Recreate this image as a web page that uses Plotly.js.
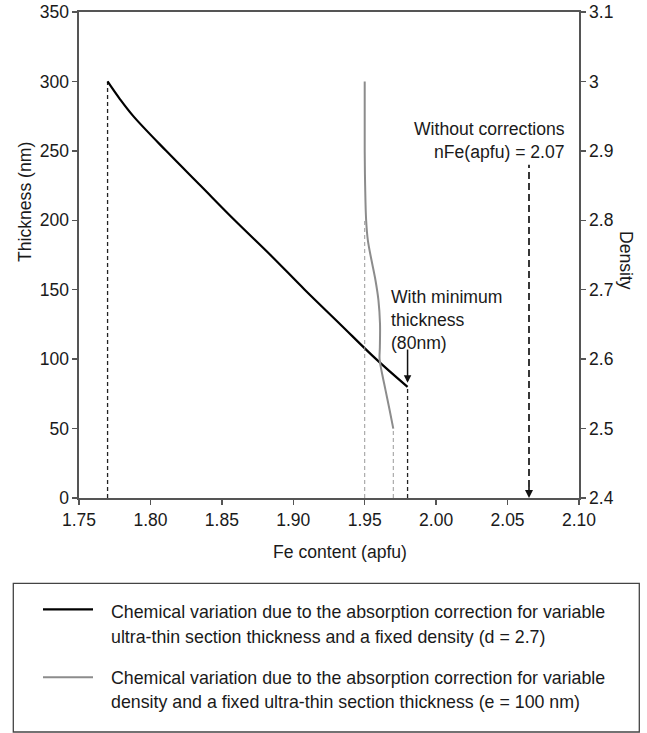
<!DOCTYPE html>
<html>
<head>
<meta charset="utf-8">
<script src="https://cdn.plot.ly/plotly-3.0.1.min.js"></script>
<style>html,body{margin:0;padding:0;background:#fff;}#chart{width:647px;height:733px;}</style>
</head>
<body>
<div id="chart"></div>
<script>
// ---- data ----
// black curve: Fe content vs section thickness (fixed density d = 2.7)
const feThick   = [1.770, 1.7785, 1.788, 1.811, 1.835, 1.859, 1.884, 1.908, 1.933, 1.958, 1.980];
const thickness = [300,   287.5,  275,   250,   225,   200,   175,   150,   125,   100,   80];
// grey curve: Fe content vs density (fixed thickness e = 100 nm)
const feDens  = [1.950, 1.950, 1.9503, 1.951, 1.9522, 1.9548, 1.9575, 1.9596, 1.9607, 1.9606, 1.9604, 1.9618, 1.9646, 1.9675, 1.970];
const density = [3.00,  2.90,  2.85,   2.80,  2.771,  2.742,  2.714,  2.685,  2.651,  2.617,  2.600,  2.583,  2.555,  2.526,  2.50];
// uncorrected value
const feNoCorr = 2.065;
const noCorrArrowTop = 240;
// axis ticks
const xTicks = [1.75, 1.80, 1.85, 1.90, 1.95, 2.00, 2.05, 2.10];
const thickTicks = [0, 50, 100, 150, 200, 250, 300, 350];
const densTicks = [2.4, 2.5, 2.6, 2.7, 2.8, 2.9, 3.0, 3.1];
const densTickText = ['2.4', '2.5', '2.6', '2.7', '2.8', '2.9', '3', '3.1'];
const seriesNames = [
  ['Chemical variation due to the absorption correction for variable',
   'ultra-thin section thickness and a fixed density (d = 2.7)'],
  ['Chemical variation due to the absorption correction for variable',
   'density and a fixed ultra-thin section thickness (e = 100 nm)']
];

// ---- layout helpers (pixel -> paper) ----
const W = 647, H = 733;
const PX0 = 79, PX1 = 579, PYT = 12, PYB = 498;
const px = p => (p - PX0) / (PX1 - PX0);
const py = p => (PYB - p) / (PYB - PYT);

const FONT = 'Liberation Sans, Arial, sans-serif';
const AXC = '#555';
const BLACK = '#000000';
const GREY = '#8c8c8c';
const DROPGREY = '#9a9a9a';

const lastT = thickness.length - 1;
const lastD = density.length - 1;
const kinkD = density.indexOf(2.80);

const traces = [
  // drop lines
  {x: [feThick[0], feThick[0]], y: [0, thickness[0]], mode: 'lines', xaxis: 'x', yaxis: 'y',
   line: {color: '#222', width: 1.3, dash: '4px,3px'}, showlegend: false, hoverinfo: 'skip'},
  {x: [feThick[lastT], feThick[lastT]], y: [0, thickness[lastT]], mode: 'lines', xaxis: 'x', yaxis: 'y',
   line: {color: '#222', width: 1.3, dash: '4px,3px'}, showlegend: false, hoverinfo: 'skip'},
  {x: [feDens[0], feDens[0]], y: [densTicks[0], density[kinkD]], mode: 'lines', xaxis: 'x', yaxis: 'y2',
   line: {color: DROPGREY, width: 1, dash: '4px,3px'}, showlegend: false, hoverinfo: 'skip'},
  {x: [feDens[lastD], feDens[lastD]], y: [densTicks[0], density[lastD]], mode: 'lines', xaxis: 'x', yaxis: 'y2',
   line: {color: DROPGREY, width: 1, dash: '4px,3px'}, showlegend: false, hoverinfo: 'skip'},
  {x: [feNoCorr, feNoCorr], y: [8, noCorrArrowTop], mode: 'lines', xaxis: 'x', yaxis: 'y',
   line: {color: '#222', width: 1.8, dash: '7px,4px'}, showlegend: false, hoverinfo: 'skip'},
  // curves
  {x: feThick, y: thickness, mode: 'lines', xaxis: 'x', yaxis: 'y', name: seriesNames[0].join(' '),
   line: {color: BLACK, width: 2.2, shape: 'spline', smoothing: 1}, showlegend: false},
  {x: feDens, y: density, mode: 'lines', xaxis: 'x', yaxis: 'y2', name: seriesNames[1].join(' '),
   line: {color: GREY, width: 2, shape: 'spline', smoothing: 1}, showlegend: false}
];

const tickFont = {family: FONT, size: 17.5, color: '#1a1a1a'};
const annFont = {family: FONT, size: 17.6, color: '#1a1a1a'};
const legFont = {family: FONT, size: 17.8, color: '#1a1a1a'};

const annotations = [
  // axis titles
  {xref: 'paper', yref: 'paper', x: px(340), y: py(551.5), text: 'Fe content (apfu)', showarrow: false,
   xanchor: 'center', yanchor: 'middle', font: annFont},
  {xref: 'paper', yref: 'paper', x: px(25), y: py(202), text: 'Thickness (nm)', showarrow: false,
   textangle: -90, xanchor: 'center', yanchor: 'middle', font: annFont},
  {xref: 'paper', yref: 'paper', x: px(626), y: py(260), text: 'Density', showarrow: false,
   textangle: 90, xanchor: 'center', yanchor: 'middle', font: annFont},
  // in-plot labels
  {xref: 'paper', yref: 'paper', x: px(567), y: py(141), text: 'Without corrections<br>nFe(apfu) = 2.07',
   showarrow: false, align: 'right', xanchor: 'right', yanchor: 'middle', font: annFont},
  {xref: 'paper', yref: 'paper', x: px(389), y: py(320), text: 'With minimum<br>thickness<br>(80nm)',
   showarrow: false, align: 'left', xanchor: 'left', yanchor: 'middle', font: annFont},
  // arrows
  {xref: 'x', yref: 'y', axref: 'x', ayref: 'y', x: feThick[lastT], y: thickness[lastT] + 3,
   ax: feThick[lastT], ay: 108, text: '', showarrow: true, arrowhead: 2, arrowsize: 1, arrowwidth: 1.5,
   arrowcolor: '#111', standoff: 0},
  {xref: 'x', yref: 'y', axref: 'x', ayref: 'y', x: feNoCorr, y: 0,
   ax: feNoCorr, ay: 9, text: '', showarrow: true, arrowhead: 2, arrowsize: 1, arrowwidth: 1.6,
   arrowcolor: '#111', standoff: 0},
  // legend text
  {xref: 'paper', yref: 'paper', x: px(109), y: py(612.4), text: seriesNames[0][0], showarrow: false,
   xanchor: 'left', yanchor: 'middle', font: legFont},
  {xref: 'paper', yref: 'paper', x: px(109), y: py(636.7), text: seriesNames[0][1], showarrow: false,
   xanchor: 'left', yanchor: 'middle', font: legFont},
  {xref: 'paper', yref: 'paper', x: px(109), y: py(678.4), text: seriesNames[1][0], showarrow: false,
   xanchor: 'left', yanchor: 'middle', font: legFont},
  {xref: 'paper', yref: 'paper', x: px(109), y: py(702.4), text: seriesNames[1][1], showarrow: false,
   xanchor: 'left', yanchor: 'middle', font: legFont}
];

const shapes = [
  // legend box
  {type: 'rect', xref: 'paper', yref: 'paper', x0: px(13.3), x1: px(639.3), y0: py(583.3), y1: py(732),
   line: {color: '#444', width: 1.3}, fillcolor: 'rgba(0,0,0,0)'},
  // legend samples
  {type: 'line', xref: 'paper', yref: 'paper', x0: px(43), x1: px(93), y0: py(609.3), y1: py(609.3),
   line: {color: BLACK, width: 2.2}},
  {type: 'line', xref: 'paper', yref: 'paper', x0: px(43), x1: px(93), y0: py(677.3), y1: py(677.3),
   line: {color: GREY, width: 2}}
];

const layout = {
  width: W, height: H,
  margin: {l: PX0, r: W - PX1, t: PYT, b: H - PYB, pad: 0},
  paper_bgcolor: '#ffffff', plot_bgcolor: '#ffffff',
  showlegend: false,
  font: {family: FONT, color: '#1a1a1a'},
  xaxis: {range: [1.75, 2.10], tickmode: 'array', tickvals: xTicks, ticktext: xTicks.map(v => v.toFixed(2)),
    ticks: 'outside', ticklen: 5, tickwidth: 1.3, tickcolor: AXC, showline: true, linecolor: AXC, linewidth: 1.6,
    mirror: true, showgrid: false, zeroline: false, tickfont: tickFont, fixedrange: true},
  yaxis: {range: [0, 350], tickmode: 'array', tickvals: thickTicks,
    ticks: 'outside', ticklen: 5, tickwidth: 1.3, tickcolor: AXC, showline: true, linecolor: AXC, linewidth: 1.6,
    showgrid: false, zeroline: false, tickfont: tickFont, fixedrange: true},
  yaxis2: {range: [2.4, 3.1], overlaying: 'y', side: 'right', tickmode: 'array', tickvals: densTicks, ticktext: densTickText,
    ticks: 'outside', ticklen: 5, tickwidth: 1.3, tickcolor: AXC, showline: true, linecolor: AXC, linewidth: 1.6,
    showgrid: false, zeroline: false, tickfont: tickFont, fixedrange: true},
  annotations: annotations,
  shapes: shapes
};

Plotly.newPlot('chart', traces, layout, {staticPlot: true, displayModeBar: false});
</script>
</body>
</html>
